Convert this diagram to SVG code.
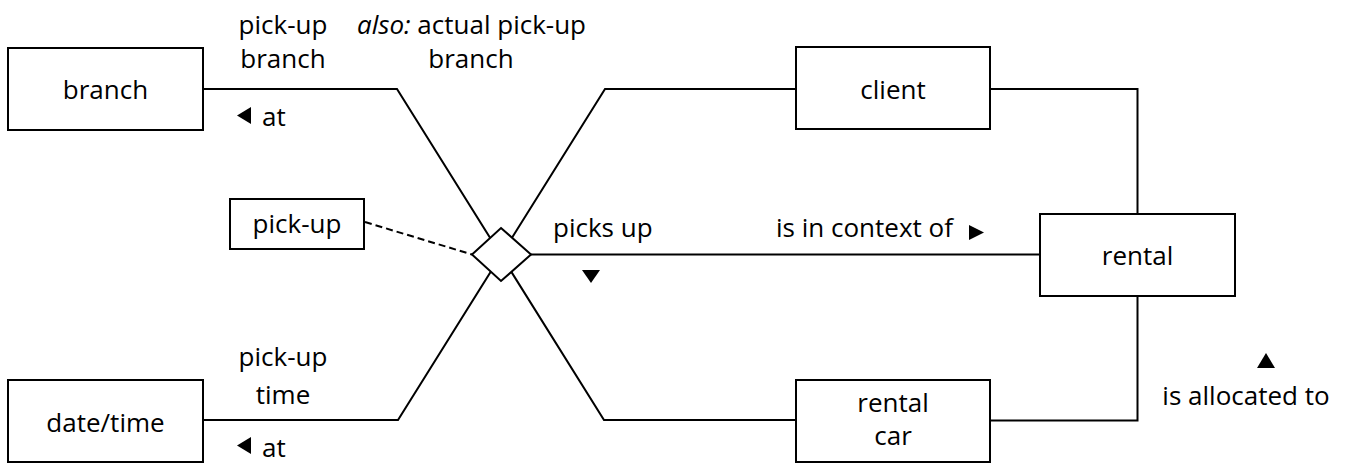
<svg xmlns="http://www.w3.org/2000/svg" width="1346" height="464" viewBox="0 0 1346 464">
<style>
  .box { fill: #ffffff; stroke: #000000; stroke-width: 2; }
  .ln { fill: none; stroke: #000000; stroke-width: 2; stroke-linejoin: miter; }
  .dash { fill: none; stroke: #000000; stroke-width: 2; stroke-dasharray: 7 4; }
  .t { font-family: "Open Sans", "Noto Sans", "Liberation Sans", sans-serif; font-size: 26px; fill: #000000; }
  .m { text-anchor: middle; }
  .tri { fill: #000000; }
</style>
<rect width="1346" height="464" fill="#ffffff"/>
<g id="connectors">
  <polyline class="ln" points="203,89 397,89 604,420 796,420"/>
  <polyline class="ln" points="796,89 605,89 398,420 203,420"/>
  <polyline class="ln" points="990,89 1137.5,89 1137.5,214"/>
  <polyline class="ln" points="1137.5,296 1137.5,420.5 990,420.5"/>
  <line class="ln" x1="531" y1="254.5" x2="1040" y2="254.5"/>
  <line class="dash" x1="365" y1="222" x2="472" y2="254.5"/>
</g>
<g id="labels">
  <text class="t m" x="283" y="34">pick-up</text>
  <text class="t m" x="283" y="68">branch</text>
  <text class="t m" x="471.5" y="34"><tspan font-style="italic">also:</tspan> actual pick-up</text>
  <text class="t m" x="471" y="68">branch</text>
  <polygon class="tri" points="251,107 251,124 237,115.5"/>
  <text class="t" x="262" y="126">at</text>
  <text class="t" x="553" y="237">picks up</text>
  <polygon class="tri" points="582,270 600,270 591,283"/>
  <text class="t" x="776" y="237">is in context of</text>
  <polygon class="tri" points="969,225 969,240 984,232.5"/>
  <polygon class="tri" points="1257,368 1275,368 1266,353"/>
  <text class="t m" x="1246" y="405">is allocated to</text>
  <text class="t m" x="283" y="366">pick-up</text>
  <text class="t m" x="283" y="404">time</text>
  <polygon class="tri" points="251,437 251,454 237,445.5"/>
  <text class="t" x="262" y="457">at</text>
</g>
<g id="node-branch">
  <rect class="box" x="8" y="48" width="195" height="82"/>
  <text class="t m" x="105.5" y="99">branch</text>
</g>
<g id="node-pickup">
  <rect class="box" x="230" y="199" width="134" height="50"/>
  <text class="t m" x="297" y="233">pick-up</text>
</g>
<g id="node-datetime">
  <rect class="box" x="8" y="380" width="195" height="82"/>
  <text class="t m" x="105.5" y="432">date/time</text>
</g>
<g id="node-diamond">
  <polygon class="box" points="501,228 531,254.5 501,281 472,254.5"/>
</g>
<g id="node-client">
  <rect class="box" x="796" y="47" width="194" height="82"/>
  <text class="t m" x="893" y="99">client</text>
</g>
<g id="node-rental">
  <rect class="box" x="1040" y="214" width="195" height="82"/>
  <text class="t m" x="1137.5" y="265">rental</text>
</g>
<g id="node-rentalcar">
  <rect class="box" x="796" y="380" width="194" height="82"/>
  <text class="t m" x="893" y="412">rental</text>
  <text class="t m" x="893" y="445">car</text>
</g>
</svg>
